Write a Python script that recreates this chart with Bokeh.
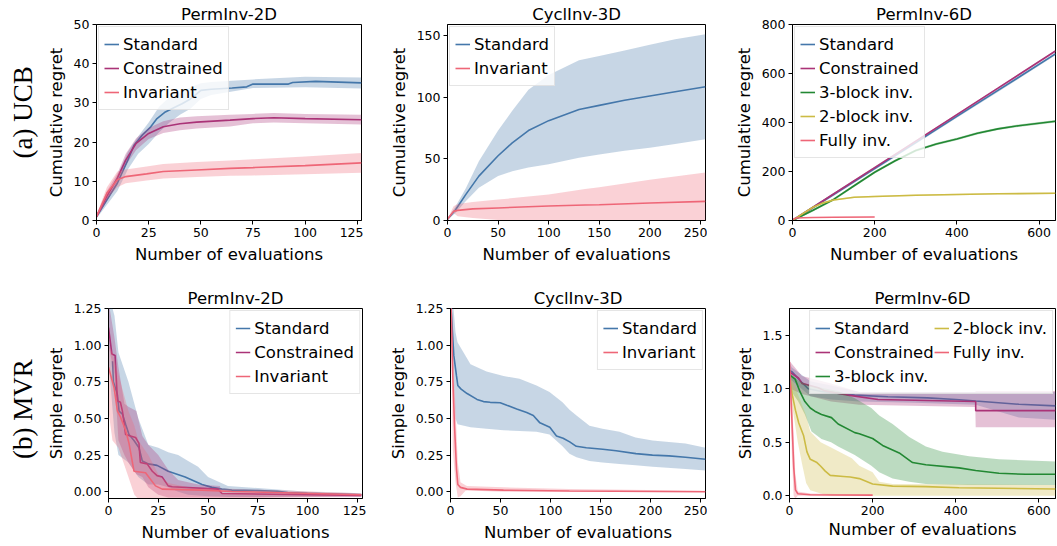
from bokeh.plotting import figure
from bokeh.layouts import row, column
from bokeh.models import (Legend, LegendItem, FixedTicker, NumeralTickFormatter,
                          Label, Range1d)
from bokeh.embed import file_html
from bokeh.resources import INLINE

BLUE = "#4477AA"; PURPLE = "#AA3377"; PINK = "#EE6677"; GREEN = "#228833"; YELLOW = "#CCBB44"

# ---------------- (a) UCB, PermInv-2D ----------------
a1_std_x = [0, 5, 10, 15, 18, 22, 26, 29, 33, 38, 41, 45, 48, 50, 55, 65, 72, 75, 92, 94, 105, 127]
a1_std_y = [1, 5.3, 9.5, 15.4, 19.2, 21.8, 23.9, 26, 27.7, 29, 29.8, 31, 32.3, 33.2, 33.5, 33.8, 34.1, 34.8, 34.8, 35.2, 35.5, 35.1]
a1_std_bx = [0, 10, 15, 20, 25, 30, 35, 40, 45, 50, 55, 75, 100, 127]
a1_std_lo = [0.5, 7.5, 13, 17, 19.5, 22.5, 25, 27, 28.5, 31, 32, 33.8, 34, 33.7]
a1_std_hi = [1.5, 11.5, 17.5, 21.5, 25, 29, 31.5, 32.5, 34, 35, 35.3, 36, 36.7, 36.5]
a1_con_x = [0, 5, 10, 14, 19, 25, 32, 40, 48, 64, 75, 85, 100, 127]
a1_con_y = [1, 6.2, 10.8, 15.4, 19.7, 22.2, 23.9, 24.7, 25.1, 25.6, 26, 26.2, 26, 25.7]
a1_con_lo = [0.5, 5, 9.5, 14, 18, 20.8, 22.3, 23, 23.5, 24, 24.8, 25, 24.8, 24.5]
a1_con_hi = [1.5, 7.5, 12, 17, 21, 23.6, 25.3, 26.3, 26.6, 27, 27.2, 27.4, 27.2, 27]
a1_inv_x = [0, 5, 10, 14, 24, 32, 48, 64, 75, 100, 127]
a1_inv_y = [1, 7, 10.4, 11.2, 11.9, 12.5, 12.9, 13.3, 13.5, 14, 14.7]
a1_inv_lo = [0.5, 5.5, 8.5, 9.5, 10.2, 10.7, 11.1, 11.4, 11.5, 11.8, 12.2]
a1_inv_hi = [1.5, 8.5, 12.5, 13, 13.8, 14.4, 14.9, 15.3, 15.6, 16.3, 17.2]

# ---------------- (a) UCB, CyclInv-3D ----------------
a2_std_x = [0, 8, 18, 31, 50, 64, 80, 100, 130, 150, 175, 200, 225, 255]
a2_std_y = [1, 8.7, 21, 36, 52.5, 63, 73, 81, 90, 93.4, 97.5, 101, 104.5, 108.5]
a2_std_lo = [0.5, 6, 15.6, 26.5, 36, 40, 43, 45.6, 51, 53.5, 56.5, 59, 62, 66]
a2_std_hi = [1.5, 11.5, 26, 48, 73, 89, 106, 118, 130, 133.5, 138, 142.5, 147, 151]
a2_inv_x = [0, 6, 10, 25, 50, 100, 136, 150, 200, 255]
a2_inv_y = [1, 7.4, 8.2, 9.4, 10.2, 11.8, 12.6, 12.8, 14.2, 15.5]
a2_inv_lo = [0.5, 6, 3.5, 2, 0.5, 0, -1, -1.5, -3, -5]
a2_inv_hi = [1.5, 11.5, 13.4, 15, 17, 21, 25.5, 27, 33, 39]

# ---------------- (a) UCB, PermInv-6D ----------------
a3_lin_x = [0, 100, 200, 300, 400, 500, 640]
a3_std_y = [0, 106, 212, 318, 425, 531, 680]
a3_con_y = [0, 108, 216, 324, 432, 540, 692]
a3_b3_x = [0, 50, 100, 150, 200, 250, 300, 350, 400, 450, 500, 550, 600, 640]
a3_b3_y = [0, 42, 86, 142, 197, 244, 286, 312, 333, 356, 374, 387, 397, 405]
a3_b2_x = [0, 25, 50, 75, 100, 150, 200, 300, 400, 500, 640]
a3_b2_y = [0, 28, 54, 72, 84, 95, 98, 103, 106, 109, 111]
a3_full_x = [0, 5, 10, 25, 50, 100, 200]
a3_full_y = [0, 8, 10, 11, 12, 13, 14]
a3_std_w = 6; a3_con_w = 4; a3_b3_w = 5; a3_b2_w = 3; a3_full_w = 1

# ---------------- (b) MVR, PermInv-2D ----------------
b1_std_x = [2, 2.5, 4.5, 5.3, 7, 8.6, 10.3, 12.8, 15.3, 17, 20, 24.4, 30, 38.5, 47, 52, 57, 62, 75, 85, 90, 100, 127]
b1_std_y = [0.89, 0.75, 0.66, 0.55, 0.53, 0.46, 0.39, 0.35, 0.3, 0.21, 0.19, 0.18, 0.14, 0.1, 0.05, 0.03, 0.018, 0.011, 0.008, 0.003, -0.005, -0.01, -0.02]
b1_std_bx = [0, 3, 5, 10, 15, 20, 25, 30, 35, 40, 45, 50, 55, 60, 75, 100, 127]
b1_std_lo = [0.9, 0.4, 0.25, 0.2, 0.1, 0.05, 0.05, 0.03, 0.0, -0.02, -0.025, -0.03, -0.033, -0.035, -0.035, -0.032, -0.03]
b1_std_hi = [1.35, 1.2, 0.95, 0.75, 0.5, 0.32, 0.3, 0.27, 0.25, 0.21, 0.17, 0.1, 0.07, 0.04, 0.025, 0.0, -0.01]
b1_con_x = [0, 1.7, 3.3, 4.5, 6, 7, 8.6, 11, 13.6, 15.3, 16, 19.4, 22, 24.4, 27, 30, 32, 55, 57, 127]
b1_con_y = [1.12, 0.94, 0.93, 0.62, 0.61, 0.55, 0.39, 0.38, 0.37, 0.33, 0.2, 0.19, 0.14, 0.11, 0.1, 0.04, 0.034, 0.018, -0.012, -0.025]
b1_con_bx = [0, 3, 5, 8, 10, 14, 17, 20, 25, 30, 35, 45, 56, 57, 127]
b1_con_lo = [1.0, 0.8, 0.35, 0.25, 0.2, 0.12, 0.1, 0.03, -0.02, -0.04, -0.04, -0.04, -0.04, -0.04, -0.035]
b1_con_hi = [1.3, 1.05, 0.85, 0.6, 0.58, 0.55, 0.38, 0.32, 0.25, 0.15, 0.08, 0.05, 0.04, -0.01, -0.015]
b1_inv_x = [0, 2.8, 4.5, 6, 8.6, 10.3, 12.8, 18.6, 23.6, 27, 47, 62, 127]
b1_inv_y = [0.85, 0.71, 0.55, 0.51, 0.42, 0.33, 0.14, 0.13, 0.04, 0.018, 0.011, 0.002, -0.02]
b1_inv_bx = [0, 2, 5, 10, 13, 15, 20, 25, 30, 40, 127]
b1_inv_lo = [0.55, 0.35, 0.3, 0.1, -0.02, -0.05, -0.05, -0.05, -0.05, -0.05, -0.03]
b1_inv_hi = [1.0, 0.95, 0.8, 0.55, 0.45, 0.35, 0.25, 0.12, 0.06, 0.03, -0.01]

# ---------------- (b) MVR, CyclInv-3D ----------------
b2_std_x = [0, 1, 3.3, 6, 7.3, 10.6, 16.6, 26.5, 33, 39.7, 49.7, 56.3, 66.2, 76.2, 82.8, 89.4, 99.3, 106, 112.6, 119.2, 125.8, 135.8, 152.3, 165.6, 185.4, 202, 218.5, 235, 255]
b2_std_y = [1.3, 1.2, 0.93, 0.79, 0.725, 0.7, 0.67, 0.63, 0.615, 0.61, 0.607, 0.59, 0.565, 0.54, 0.52, 0.47, 0.44, 0.38, 0.365, 0.34, 0.31, 0.3, 0.29, 0.28, 0.26, 0.25, 0.245, 0.235, 0.222]
b2_std_bx = [0, 3, 5, 7, 20, 36, 53, 69, 86, 99, 112, 119, 126, 139, 152, 169, 185, 202, 235, 255]
b2_std_lo = [1.1, 0.8, 0.5, 0.46, 0.44, 0.43, 0.42, 0.415, 0.41, 0.39, 0.31, 0.26, 0.235, 0.21, 0.2, 0.19, 0.18, 0.17, 0.155, 0.145]
b2_std_hi = [1.3, 1.25, 1.09, 1.02, 0.87, 0.82, 0.79, 0.77, 0.725, 0.68, 0.61, 0.56, 0.52, 0.45, 0.43, 0.41, 0.37, 0.35, 0.33, 0.3]
b2_inv_x = [0, 0.7, 2.3, 4, 6, 7.3, 10, 16.6, 53, 119, 255]
b2_inv_y = [1.3, 1.25, 0.79, 0.45, 0.155, 0.05, 0.03, 0.018, 0.011, 0.005, 0.0]
b2_inv_bx = [0, 1.3, 2.3, 3.3, 5, 7.3, 10, 15, 16.6, 53, 119, 255]
b2_inv_lo = [1.2, 0.8, 0.29, 0.2, 0.064, -0.04, -0.03, 0.007, 0.008, 0.0, 0.0, 0.0]
b2_inv_hi = [1.3, 1.25, 1.02, 0.8, 0.57, 0.2, 0.064, 0.045, 0.04, 0.03, 0.018, 0.007]

# ---------------- (b) MVR, PermInv-6D ----------------
b3_std_x = [0, 5.6, 29.5, 45, 77, 157, 237, 332, 400, 448, 552, 640]
b3_std_y = [1.17, 1.16, 1.06, 1.0, 0.975, 0.94, 0.925, 0.915, 0.9, 0.885, 0.855, 0.84]
b3_std_bx = [0, 5, 50, 100, 168, 300, 448, 552, 640]
b3_std_lo = [1.1, 1.08, 0.93, 0.9, 0.88, 0.87, 0.85, 0.73, 0.71]
b3_std_hi = [1.25, 1.2, 1.07, 1.03, 0.97, 0.97, 0.97, 0.97, 0.97]
b3_con_x = [0, 2.4, 21.5, 30, 69, 85, 141, 213, 448, 448, 640]
b3_con_y = [1.17, 1.15, 1.1, 1.05, 1.01, 0.98, 0.94, 0.9, 0.88, 0.795, 0.795]
b3_con_bx = [0, 2, 30, 100, 168, 447, 448, 640]
b3_con_lo = [1.05, 1.0, 0.95, 0.88, 0.85, 0.83, 0.64, 0.64]
b3_con_hi = [1.3, 1.25, 1.12, 1.05, 0.97, 0.97, 0.98, 0.98]
b3_b3_x = [0, 13.5, 25.5, 37, 50, 61, 77, 101, 117, 157, 168, 200, 224, 264, 296, 328, 408, 448, 504, 568, 640]
b3_b3_y = [1.13, 1.09, 0.97, 0.88, 0.82, 0.79, 0.76, 0.73, 0.67, 0.59, 0.58, 0.535, 0.47, 0.4, 0.31, 0.29, 0.26, 0.235, 0.21, 0.2, 0.2]
b3_b3_bx = [0, 21, 37, 53, 77, 100, 117, 157, 197, 216, 248, 288, 328, 368, 432, 504, 640]
b3_b3_lo = [1.0, 0.88, 0.76, 0.6, 0.53, 0.5, 0.46, 0.38, 0.28, 0.22, 0.16, 0.13, 0.11, 0.105, 0.1, 0.1, 0.1]
b3_b3_hi = [1.15, 1.08, 1.05, 1.03, 1.01, 0.99, 0.98, 0.91, 0.82, 0.75, 0.67, 0.55, 0.46, 0.41, 0.37, 0.34, 0.32]
b3_b2_x = [0, 6.4, 14.3, 22.3, 34, 42, 50, 66, 74, 86, 98, 130, 146, 168, 200, 248, 328, 408, 640]
b3_b2_y = [1.1, 0.95, 0.8, 0.68, 0.56, 0.41, 0.34, 0.31, 0.28, 0.23, 0.19, 0.18, 0.175, 0.16, 0.11, 0.09, 0.085, 0.075, 0.063]
b3_b2_bx = [0, 10, 20, 30, 40, 50, 75, 100, 150, 168, 200, 216, 248, 640]
b3_b2_lo = [1.0, 0.75, 0.5, 0.3, 0.12, 0.05, 0.02, 0.0, 0.0, 0.0, 0.0, 0.0, 0.0, 0.0]
b3_b2_hi = [1.15, 1.05, 0.95, 0.85, 0.75, 0.6, 0.5, 0.45, 0.35, 0.28, 0.22, 0.13, 0.11, 0.1]
b3_full_x = [0, 6.4, 10.3, 14.3, 20, 50, 200]
b3_full_y = [1.25, 0.65, 0.26, 0.054, 0.018, 0.009, 0.006]
b3_full_bx = [0, 6, 10, 14, 20, 50, 200]
b3_full_lo = [1.1, 0.35, 0.0, -0.026, 0.0, 0.0, 0.0]
b3_full_hi = [1.3, 0.95, 0.55, 0.2, 0.04, 0.02, 0.01]

FONT = "DejaVu Sans"


def panel(title, xr, yr, xticks, yticks, ylab, width, height, bl, br, bt, bb, yfmt=None, xlab_standoff=5):
    p = figure(width=width, height=height, x_range=Range1d(*xr), y_range=Range1d(*yr),
               toolbar_location=None, output_backend="svg", title=title,
               min_border_left=bl, min_border_right=br, min_border_top=bt, min_border_bottom=bb)
    p.title.text_font = FONT
    p.title.text_font_size = "16.5px"
    p.title.text_font_style = "normal"
    p.title.text_color = "black"
    p.title.align = "center"
    p.title.standoff = 2
    p.title.offset = 0
    p.grid.visible = False
    p.outline_line_color = "black"
    p.outline_line_width = 1
    p.xaxis.ticker = FixedTicker(ticks=xticks)
    p.yaxis.ticker = FixedTicker(ticks=yticks)
    if yfmt:
        p.yaxis.formatter = NumeralTickFormatter(format=yfmt)
    p.xaxis.axis_label = "Number of evaluations"
    p.yaxis.axis_label = ylab
    for ax in p.axis:
        ax.axis_line_color = "black"
        ax.major_tick_line_color = "black"
        ax.major_tick_out = 4
        ax.major_tick_in = 0
        ax.minor_tick_out = 0
        ax.minor_tick_in = 0
        ax.major_label_text_font = FONT
        ax.major_label_text_font_size = "12.5px"
        ax.major_label_text_color = "black"
        ax.major_label_standoff = 3
        ax.axis_label_text_font = FONT
        ax.axis_label_text_font_size = "16.5px"
        ax.axis_label_text_font_style = "normal"
        ax.axis_label_text_color = "black"
        ax.axis_label_standoff = 5
    p.xaxis.axis_label_standoff = xlab_standoff
    return p


def series(p, x, y, bx, lo, hi, color):
    p.varea(x=bx, y1=lo, y2=hi, fill_color=color, fill_alpha=0.3)
    return p.line(x, y, line_color=color, line_width=1.6)


def legend(p, items, loc, nrows=None):
    lg = Legend(items=[LegendItem(label=l, renderers=[r]) for l, r in items], location=loc)
    lg.label_text_font = FONT
    lg.label_text_font_size = "16.5px"
    lg.label_text_color = "black"
    lg.glyph_width = 15
    lg.glyph_height = 24
    lg.label_height = 24
    lg.label_standoff = 4
    lg.spacing = 0
    lg.padding = 5
    lg.margin = 2
    lg.border_line_color = "#cccccc"
    lg.border_line_width = 1
    lg.background_fill_color = "white"
    lg.background_fill_alpha = 0.8
    if nrows:
        lg.nrows = nrows
    p.add_layout(lg)


TOP_H = 270
BOT_H = 274
LAB_W = 43

# Row (a)
p1 = panel("PermInv-2D", (0, 127), (0, 50), [0, 25, 50, 75, 100, 125], [0, 10, 20, 30, 40, 50],
           "Cumulative regret", 320, TOP_H, 52, 2, 24, 50)
r1 = series(p1, a1_std_x, a1_std_y, a1_std_bx, a1_std_lo, a1_std_hi, BLUE)
r2 = series(p1, a1_con_x, a1_con_y, a1_con_x, a1_con_lo, a1_con_hi, PURPLE)
r3 = series(p1, a1_inv_x, a1_inv_y, a1_inv_x, a1_inv_lo, a1_inv_hi, PINK)
legend(p1, [("Standard", r1), ("Constrained", r2), ("Invariant", r3)], "top_left")

p2 = panel("CyclInv-3D", (0, 255), (0, 159), [0, 50, 100, 150, 200, 250], [0, 50, 100, 150],
           "Cumulative regret", 344, TOP_H, 84, 2, 24, 50)
r1 = series(p2, a2_std_x, a2_std_y, a2_std_x, a2_std_lo, a2_std_hi, BLUE)
r2 = series(p2, a2_inv_x, a2_inv_y, a2_inv_x, a2_inv_lo, a2_inv_hi, PINK)
legend(p2, [("Standard", r1), ("Invariant", r2)], "top_left")

p3 = panel("PermInv-6D", (0, 640), (0, 800), [0, 200, 400, 600], [0, 200, 400, 600, 800],
           "Cumulative regret", 349, TOP_H, 85, 1, 24, 50)
r1 = series(p3, a3_lin_x, a3_std_y, a3_lin_x, [v - a3_std_w for v in a3_std_y], [v + a3_std_w for v in a3_std_y], BLUE)
r2 = series(p3, a3_lin_x, a3_con_y, a3_lin_x, [v - a3_con_w for v in a3_con_y], [v + a3_con_w for v in a3_con_y], PURPLE)
r3 = series(p3, a3_b3_x, a3_b3_y, a3_b3_x, [v - a3_b3_w for v in a3_b3_y], [v + a3_b3_w for v in a3_b3_y], GREEN)
r4 = series(p3, a3_b2_x, a3_b2_y, a3_b2_x, [v - a3_b2_w for v in a3_b2_y], [v + a3_b2_w for v in a3_b2_y], YELLOW)
r5 = series(p3, a3_full_x, a3_full_y, a3_full_x, [v - a3_full_w for v in a3_full_y], [v + a3_full_w for v in a3_full_y], PINK)
legend(p3, [("Standard", r1), ("Constrained", r2), ("3-block inv.", r3), ("2-block inv.", r4), ("Fully inv.", r5)], "top_left")

# Row (b)
mvr_ticks = [0, 0.25, 0.5, 0.75, 1.0, 1.25]
p4 = panel("PermInv-2D", (0, 127.6), (-0.046, 1.25), [0, 25, 50, 75, 100, 125], mvr_ticks,
           "Simple regret", 323, BOT_H, 63, 4, 38, 46, yfmt="0.00")
r1 = series(p4, b1_std_x, b1_std_y, b1_std_bx, b1_std_lo, b1_std_hi, BLUE)
r2 = series(p4, b1_con_x, b1_con_y, b1_con_bx, b1_con_lo, b1_con_hi, PURPLE)
r3 = series(p4, b1_inv_x, b1_inv_y, b1_inv_bx, b1_inv_lo, b1_inv_hi, PINK)
legend(p4, [("Standard", r1), ("Constrained", r2), ("Invariant", r3)], "top_right")

p5 = panel("CyclInv-3D", (0, 255), (-0.046, 1.25), [0, 50, 100, 150, 200, 250], mvr_ticks,
           "Simple regret", 341, BOT_H, 84, 2, 38, 46, yfmt="0.00")
r1 = series(p5, b2_std_x, b2_std_y, b2_std_bx, b2_std_lo, b2_std_hi, BLUE)
r2 = series(p5, b2_inv_x, b2_inv_y, b2_inv_bx, b2_inv_lo, b2_inv_hi, PINK)
legend(p5, [("Standard", r1), ("Invariant", r2)], "top_right")

p6 = panel("PermInv-6D", (0, 640), (-0.026, 1.75), [0, 200, 400, 600], [0, 0.5, 1.0, 1.5],
           "Simple regret", 349, BOT_H, 82, 1, 33, 43, yfmt="0.0", xlab_standoff=2)
r1 = series(p6, b3_std_x, b3_std_y, b3_std_bx, b3_std_lo, b3_std_hi, BLUE)
r2 = series(p6, b3_con_x, b3_con_y, b3_con_bx, b3_con_lo, b3_con_hi, PURPLE)
r3 = series(p6, b3_b3_x, b3_b3_y, b3_b3_bx, b3_b3_lo, b3_b3_hi, GREEN)
r4 = series(p6, b3_b2_x, b3_b2_y, b3_b2_bx, b3_b2_lo, b3_b2_hi, YELLOW)
r5 = series(p6, b3_full_x, b3_full_y, b3_full_bx, b3_full_lo, b3_full_hi, PINK)
legend(p6, [("Standard", r1), ("Constrained", r2), ("3-block inv.", r3), ("2-block inv.", r4), ("Fully inv.", r5)], "top_right", nrows=3)


def row_label(text, h, cy):
    f = figure(width=LAB_W, height=h, x_range=Range1d(0, LAB_W), y_range=Range1d(0, h),
               x_axis_type=None, y_axis_type=None, min_border=0, toolbar_location=None,
               output_backend="svg", outline_line_color=None)
    f.add_layout(Label(x=22, y=h - cy, text=text, angle=90, angle_units="deg",
                       text_align="center", text_baseline="middle",
                       text_font="Liberation Serif", text_font_size="27px", text_color="black"))
    return f


lab1 = row_label("(a) UCB", TOP_H, 121)
lab2 = row_label("(b) MVR", BOT_H, 145)

layout = column(row(lab1, p1, p2, p3), row(lab2, p4, p5, p6))
open("out.html", "w").write(file_html(layout, INLINE))
